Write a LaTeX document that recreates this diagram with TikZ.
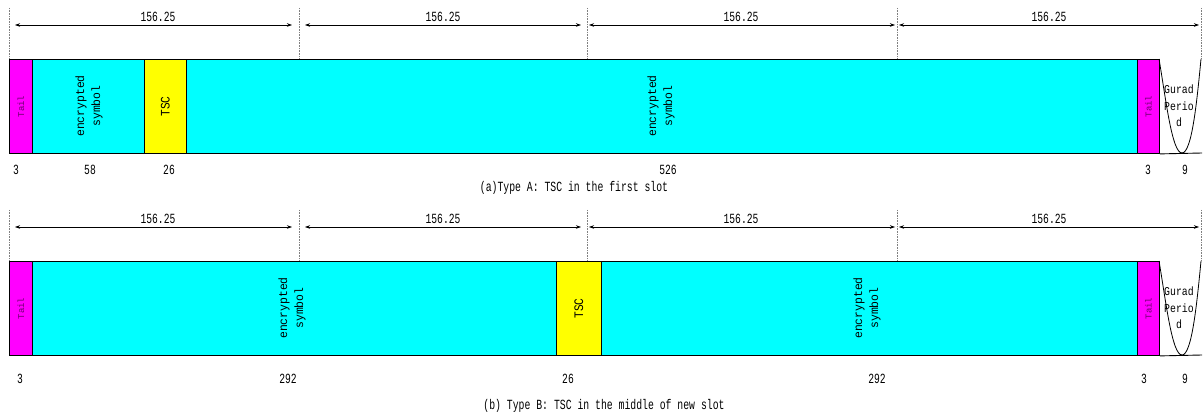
\documentclass[tikz,border=0pt]{standalone}
\usepackage{fontspec}
\usepackage{graphicx}
\setmainfont{Liberation Mono}
\usetikzlibrary{arrows.meta}
\definecolor{segmag}{RGB}{255,0,255}
\definecolor{segcyan}{RGB}{0,255,255}
\definecolor{segyel}{RGB}{255,255,0}
\definecolor{tailtxt}{RGB}{110,0,110}
\newcommand\czx[2]{\scalebox{#1}[1]{#2}}
\newcommand\stk[1]{\begin{tabular}{@{}c@{}}#1\end{tabular}}
\begin{document}
\begin{tikzpicture}[x=1pt,y=-1pt,
  segbox/.style={draw=black,line width=0.9pt,inner sep=0pt,anchor=north west,minimum height=94pt},
  vtext/.style={rotate=90,font=\fontsize{12}{16}\selectfont,inner sep=0pt},
  tsctext/.style={rotate=90,font=\fontsize{13}{14}\selectfont,inner sep=0pt},
  tailtext/.style={rotate=90,font=\fontsize{9}{10}\selectfont,text=tailtxt,inner sep=0pt},
  numtext/.style={font=\fontsize{14}{15}\selectfont,inner sep=0pt},
  captext/.style={font=\fontsize{14}{15}\selectfont,inner sep=0pt},
  gptext/.style={font=\fontsize{12}{16.5}\selectfont,inner sep=0pt},
  dimline/.style={{Stealth[length=5pt,width=3.5pt]}-{Stealth[length=5pt,width=3.5pt]},line width=0.6pt},
  guide/.style={densely dotted,gray,line width=0.6pt},
  guardc/.style={line width=0.8pt}
]
\useasboundingbox (0,0) rectangle (1203,417);

% ---------------- Row A ----------------
\foreach \n/\x in {0/9,1/299,2/587,3/897,4/1201}{
  \coordinate (at\n) at (\x,8);
  \coordinate (ab\n) at (\x,59);
  \draw[guide] (at\n) -- (ab\n);
}
\coordinate (aL1) at (15,25); \coordinate (aR1) at (292,25);
\coordinate (aL2) at (305,25); \coordinate (aR2) at (581,25);
\coordinate (aL3) at (589,25); \coordinate (aR3) at (895,25);
\coordinate (aL4) at (899,25); \coordinate (aR4) at (1199,25);
\foreach \i/\lx in {1/158,2/443,3/741,4/1049}{
  \draw[dimline] (aL\i) -- (aR\i);
  \node[numtext] (adl\i) at (\lx,17) {\czx{0.69}{156.25}};
}
\node[segbox,fill=segmag,minimum width=23pt] (aT1) at (9,59) {};
\node[segbox,fill=segcyan,minimum width=112pt] (aE1) at (32,59) {};
\node[segbox,fill=segyel,minimum width=42pt] (aS) at (144,59) {};
\node[segbox,fill=segcyan,minimum width=951pt] (aE2) at (186,59) {};
\node[segbox,fill=segmag,minimum width=22pt] (aT2) at (1137,59) {};
\node[tailtext] (aT1t) at (aT1.center) {Tail};
\node[vtext] (aE1t) at (89,106) {\czx{0.95}{\stk{encrypted\\symbol}}};
\node[tsctext] (aSt) at (aS.center) {\czx{0.86}{TSC}};
\node[vtext] (aE2t) at (661,106) {\czx{0.95}{\stk{encrypted\\symbol}}};
\node[tailtext] (aT2t) at (aT2.center) {Tail};
\coordinate (agS) at (1159,59);
\coordinate (agM) at (1182,153);
\coordinate (agE) at (1201,59);
\coordinate (agR) at (1202,153);
\draw[line width=0.9pt] (aT2.south east) -- (agR);
\draw[guardc] (agS) .. controls (1166,100) and (1172,153) .. (agM) .. controls (1192,153) and (1197,100) .. (agE);
\node[gptext] (agt) at (1179,107) {\czx{0.82}{\stk{Gurad\\Perio\\d}}};
\node[numtext] (an1) at (16,170) {\czx{0.69}{3}};
\node[numtext] (an2) at (90,170) {\czx{0.69}{58}};
\node[numtext] (an3) at (169,170) {\czx{0.69}{26}};
\node[numtext] (an4) at (668,170) {\czx{0.69}{526}};
\node[numtext] (an5) at (1148,170) {\czx{0.69}{3}};
\node[numtext] (an6) at (1185,170) {\czx{0.69}{9}};
\node[captext] (acap) at (574,188) {\czx{0.7}{(a)Type A: TSC in the first slot}};

% ---------------- Row B ----------------
\foreach \n/\x in {0/9,1/299,2/587,3/897,4/1201}{
  \coordinate (bt\n) at (\x,210);
  \coordinate (bb\n) at (\x,261);
  \draw[guide] (bt\n) -- (bb\n);
}
\coordinate (bL1) at (15,227); \coordinate (bR1) at (292,227);
\coordinate (bL2) at (305,227); \coordinate (bR2) at (581,227);
\coordinate (bL3) at (589,227); \coordinate (bR3) at (895,227);
\coordinate (bL4) at (899,227); \coordinate (bR4) at (1199,227);
\foreach \i/\lx in {1/158,2/443,3/741,4/1049}{
  \draw[dimline] (bL\i) -- (bR\i);
  \node[numtext] (bdl\i) at (\lx,219) {\czx{0.69}{156.25}};
}
\node[segbox,fill=segmag,minimum width=23pt] (bT1) at (9,261) {};
\node[segbox,fill=segcyan,minimum width=524pt] (bE1) at (32,261) {};
\node[segbox,fill=segyel,minimum width=45pt] (bS) at (556,261) {};
\node[segbox,fill=segcyan,minimum width=536pt] (bE2) at (601,261) {};
\node[segbox,fill=segmag,minimum width=22pt] (bT2) at (1137,261) {};
\node[tailtext] (bT1t) at (bT1.center) {Tail};
\node[vtext] (bE1t) at (292,308) {\czx{0.95}{\stk{encrypted\\symbol}}};
\node[tsctext] (bSt) at (bS.center) {\czx{0.86}{TSC}};
\node[vtext] (bE2t) at (867,308) {\czx{0.95}{\stk{encrypted\\symbol}}};
\node[tailtext] (bT2t) at (bT2.center) {Tail};
\coordinate (bgS) at (1159,261);
\coordinate (bgM) at (1182,355);
\coordinate (bgE) at (1201,261);
\coordinate (bgR) at (1202,355);
\draw[line width=0.9pt] (bT2.south east) -- (bgR);
\draw[guardc] (bgS) .. controls (1166,302) and (1172,355) .. (bgM) .. controls (1192,355) and (1197,302) .. (bgE);
\node[gptext] (bgt) at (1179,309) {\czx{0.82}{\stk{Gurad\\Perio\\d}}};
\node[numtext] (bn1) at (20,379) {\czx{0.69}{3}};
\node[numtext] (bn2) at (288,379) {\czx{0.69}{292}};
\node[numtext] (bn3) at (568,379) {\czx{0.69}{26}};
\node[numtext] (bn4) at (877,379) {\czx{0.69}{292}};
\node[numtext] (bn5) at (1144,379) {\czx{0.69}{3}};
\node[numtext] (bn6) at (1185,379) {\czx{0.69}{9}};
\node[captext] (bcap) at (604,406) {\czx{0.7}{(b) Type B: TSC in the middle of new slot}};
\end{tikzpicture}
\end{document}
